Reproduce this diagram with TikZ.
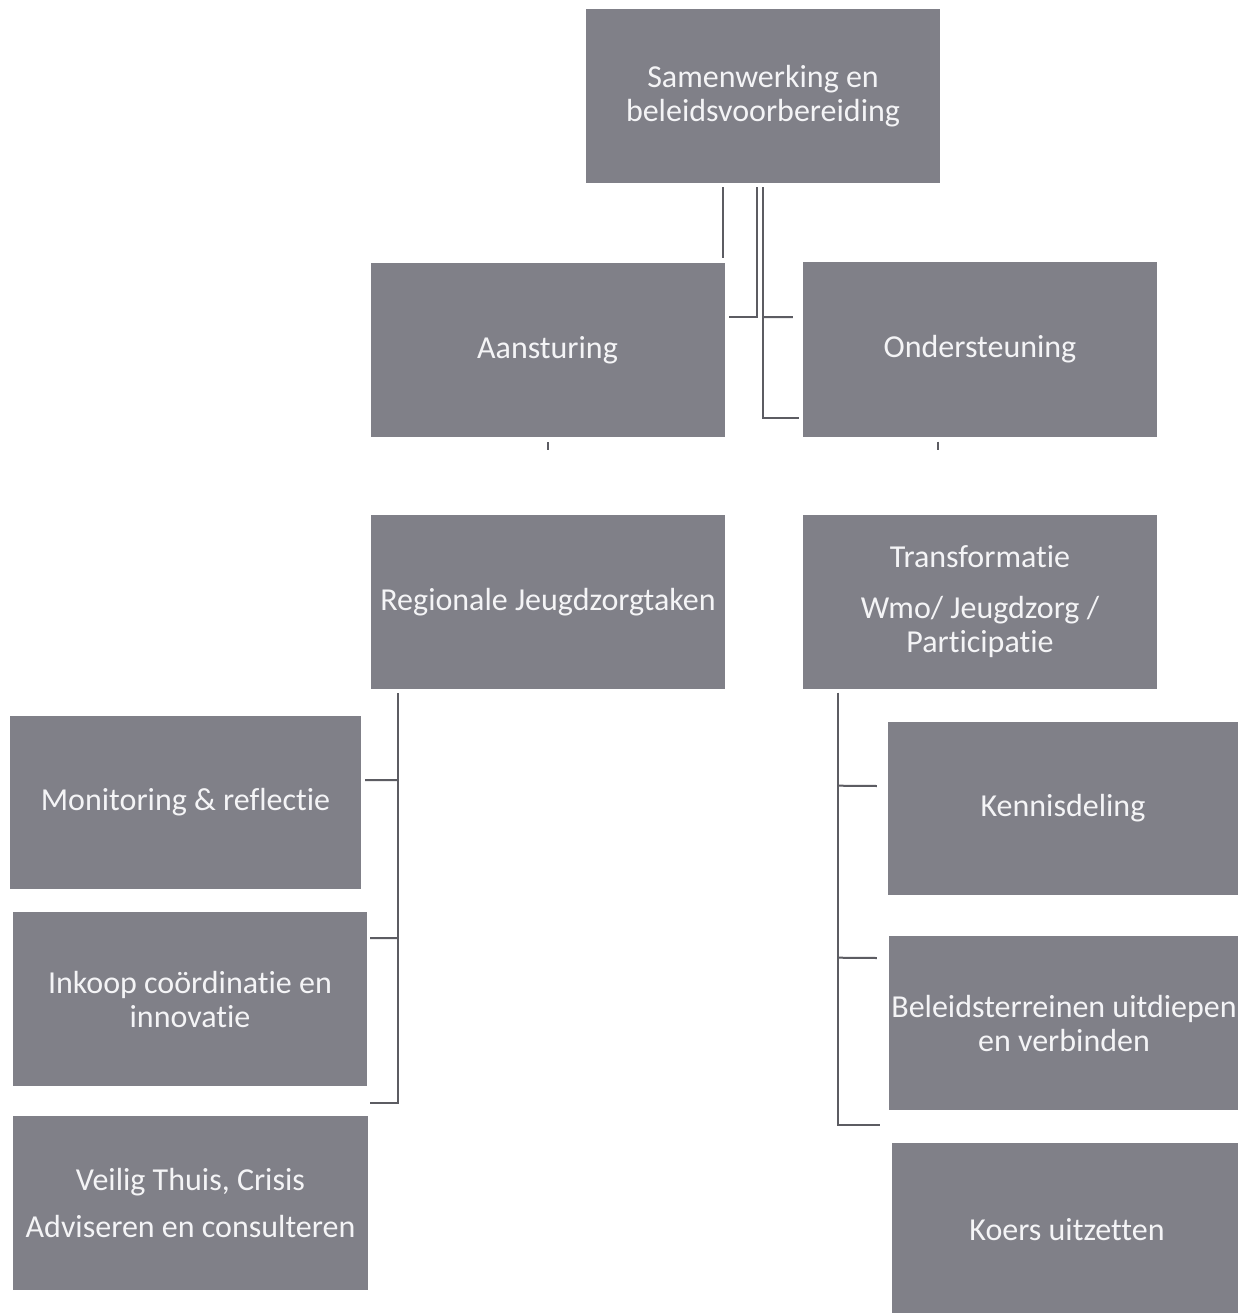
\documentclass[tikz,border=0pt]{standalone}
\usepackage{fontspec}
\setmainfont{Carlito}[Ligatures={NoCommon}]
\usetikzlibrary{calc}
\definecolor{boxgray}{RGB}{128,128,136}
\definecolor{linegray}{RGB}{92,92,98}
\definecolor{boxtext}{RGB}{244,244,246}
\begin{document}
\begin{tikzpicture}[x=1pt,y=-1pt,
      box/.style={fill=boxgray,text=boxtext,minimum width=354pt,minimum height=174pt,
        inner sep=0pt,align=center,font=\fontsize{32}{34}\selectfont},
      narrow/.style={minimum width=350pt},
      link/.style={draw=linegray,line width=2pt}]
      \useasboundingbox[fill=white] (0,0) rectangle (1238,1313);
      \node[box] (top) at (763,96) {Samenwerking en\\beleidsvoorbereiding};
      \node[box] (aans) at (547.5,350) {Aansturing};
      \node[box] (onder) at (980,349.5) {Ondersteuning};
      \node[box] (regio) at (548,602) {Regionale Jeugdzorgtaken};
      \node[box] (trans) at (980,601.5) {Transformatie\\[17pt]Wmo/ Jeugdzorg /\\Participatie};
      \node[box,minimum width=351pt,minimum height=173pt] (moni) at (185.5,802.5) {Monitoring \& reflectie};
      \node[box] (inkoop) at (190,999) {Inkoop coördinatie en\\innovatie};
      \node[box,minimum width=355pt] (veilig) at (190.5,1203) {Veilig Thuis, Crisis\\[13pt]Adviseren en consulteren};
      \node[box,narrow,minimum height=173pt] (kennis) at (1063,808.5) {Kennisdeling};
      \node[box,narrow] (beleid) at (1064,1023) {Beleidsterreinen uitdiepen\\en verbinden};
      \node[box,narrow] (koers) at (1067,1230) {Koers uitzetten};
      \draw[link] ($(top.south -| aans.east)+(-2,4)$) -- ($(aans.north east)+(-2,-5)$);
      \draw[link] ($(top.south)+(-6,4)$) |- ($(aans.east)+(4,-33)$);
      \draw[link] ($(top.south)+(0,4)$) |- ($(onder.west)+(-4,68)$);
      \draw[link] ($(top.south)+(0,134)$) -- ($(onder.west)+(-10,-32.5)$);
      \draw[link] ($(aans.south)+(0.5,5)$) -- ++(0,8);
      \draw[link] ($(onder.south)+(-42,5)$) -- ++(0,8);
      \draw[link] ($(regio.south west)+(27,4)$) |- ($(veilig.north east)+(2,-13)$);
      \draw[link] ($(moni.east)+(4,-22.5)$) -- ($(regio.south west)+(27,91)$);
      \draw[link] ($(inkoop.east)+(3,-61)$) -- ($(regio.south west)+(27,249)$);
      \draw[link] ($(trans.south west)+(35,4)$) |- ($(koers.north west)+(-12,-18)$);
      \draw[link] ($(trans.south west)+(35,97)$) -- ($(kennis.west)+(-11,-22.5)$);
      \draw[link] ($(trans.south west)+(35,269)$) -- ($(beleid.west)+(-12,-65)$);
    \end{tikzpicture}
\end{document}
